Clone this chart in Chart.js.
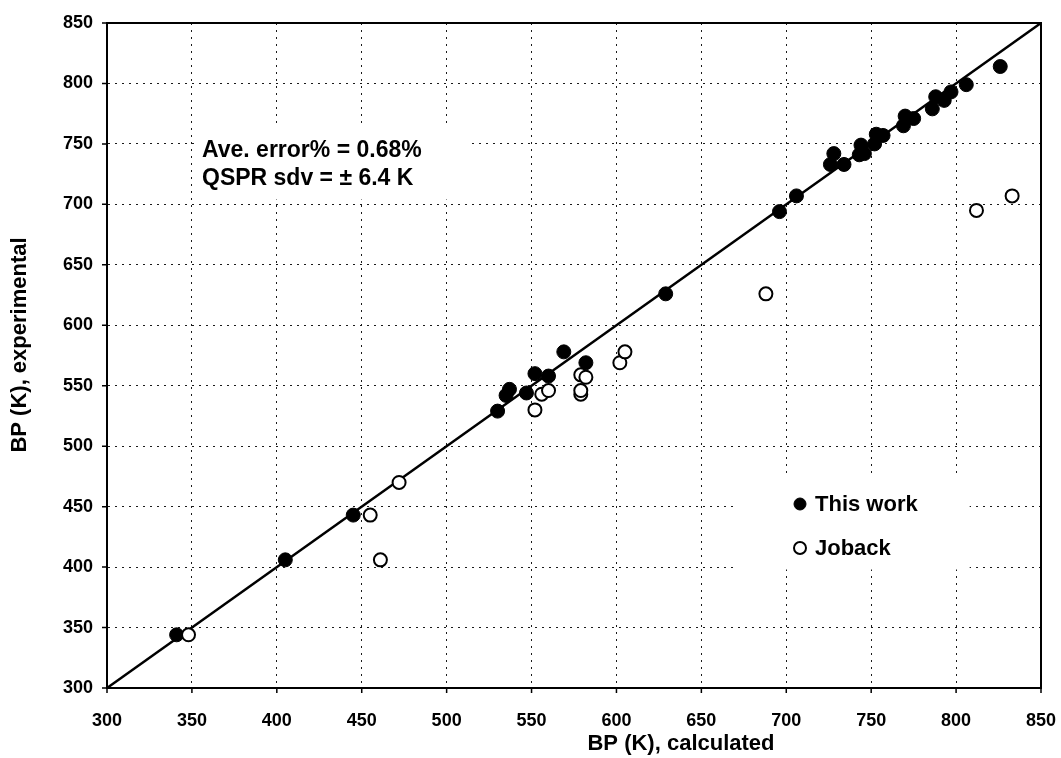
<!DOCTYPE html>
<html>
<head>
<meta charset="utf-8">
<title>BP calculated vs experimental</title>
<script src="https://cdn.jsdelivr.net/npm/chart.js@4/dist/chart.umd.min.js"></script>
<style>
    html, body { margin: 0; padding: 0; background: #ffffff; }
    #chart { display: block; }
</style>
</head>
<body>
<canvas id="chart" width="1061" height="758"></canvas>
<script>
// ============================================================================
// BOILING POINT PARITY PLOT - calculated vs experimental (K)
// ============================================================================

// --- data -------------------------------------------------------------------
var thisWorkCalc = [341, 405, 445, 530, 535, 537, 547, 552, 560, 569, 582, 629,
                    696, 706, 726, 728, 734, 743, 746, 744, 752, 753, 757, 769,
                    770, 775, 786, 788, 793, 797, 806, 826];
var thisWorkExp  = [344, 406, 443, 529, 542, 547, 544, 560, 558, 578, 569, 626,
                    694, 707, 733, 742, 733, 741, 742, 749, 750, 758, 757, 765,
                    773, 771, 779, 789, 786, 793, 799, 814];

var jobackCalc = [348, 455, 461, 472, 552, 556, 560, 579, 579, 579, 582, 602,
                  605, 688, 812, 833];
var jobackExp  = [344, 443, 406, 470, 530, 543, 546, 543, 546, 559, 557, 569,
                  578, 626, 695, 707];

var parityLine = [300, 850];
var axisTicks = [300, 350, 400, 450, 500, 550, 600, 650, 700, 750, 800, 850];

var seriesLabels = ['This work', 'Joback'];
var xTitle = 'BP (K), calculated';
var yTitle = 'BP (K), experimental';
var noteLines = ['Ave. error% = 0.68%', 'QSPR sdv = \u00b1 6.4 K'];

// --- helpers ----------------------------------------------------------------
var FONT = '"Liberation Sans", Arial, Helvetica, sans-serif';

function toPoints(xs, ys) {
    return xs.map(function(x, i) { return { x: x, y: ys[i] }; });
}

// Paper-style decorations: white boxes behind the notes, frame, tick marks,
// axis titles, note text and legend.
var paperPlugin = {
    id: 'paper',
    beforeDatasetsDraw: function(chart) {
        var ctx = chart.ctx;
        var xs = chart.scales.x, ys = chart.scales.y;
        ctx.save();
        ctx.fillStyle = '#ffffff';
        // note box
        var nx1 = xs.getPixelForValue(352), nx2 = xs.getPixelForValue(512);
        var ny1 = ys.getPixelForValue(764), ny2 = ys.getPixelForValue(704);
        ctx.fillRect(nx1, ny1, nx2 - nx1, ny2 - ny1);
        // legend box
        var lx1 = xs.getPixelForValue(671), lx2 = xs.getPixelForValue(808);
        var ly1 = ys.getPixelForValue(474), ly2 = ys.getPixelForValue(398);
        ctx.fillRect(lx1, ly1, lx2 - lx1, ly2 - ly1);
        ctx.restore();
    },
    afterDraw: function(chart) {
        var ctx = chart.ctx;
        var area = chart.chartArea;
        var xs = chart.scales.x, ys = chart.scales.y;
        ctx.save();

        // frame
        ctx.strokeStyle = '#000000';
        ctx.lineWidth = 2;
        ctx.strokeRect(area.left, area.top, area.right - area.left, area.bottom - area.top);

        // tick marks (outside)
        ctx.lineWidth = 1.5;
        ctx.beginPath();
        axisTicks.forEach(function(v) {
            var py = ys.getPixelForValue(v);
            ctx.moveTo(area.left - 5, py);
            ctx.lineTo(area.left, py);
            var px = xs.getPixelForValue(v);
            ctx.moveTo(px, area.bottom);
            ctx.lineTo(px, area.bottom + 5);
        });
        ctx.stroke();

        // axis titles
        ctx.fillStyle = '#000000';
        ctx.font = 'bold 22px ' + FONT;
        ctx.textAlign = 'center';
        ctx.textBaseline = 'middle';
        ctx.fillText(xTitle, 681, 744);
        ctx.save();
        ctx.translate(20, 345);
        ctx.rotate(-Math.PI / 2);
        ctx.fillText(yTitle, 0, 0);
        ctx.restore();

        // note text
        ctx.textAlign = 'left';
        ctx.font = 'bold 23px ' + FONT;
        ctx.fillText(noteLines[0], 202, 151);
        ctx.fillText(noteLines[1], 202, 179);

        // legend
        ctx.font = 'bold 22px ' + FONT;
        var legendY = [504, 548];
        chart.data.datasets.slice(0, 2).forEach(function(ds, i) {
            ctx.beginPath();
            ctx.arc(800, legendY[i], 6, 0, Math.PI * 2);
            ctx.fillStyle = ds.pointBackgroundColor;
            ctx.fill();
            ctx.lineWidth = ds.pointBorderWidth;
            ctx.strokeStyle = '#000000';
            ctx.stroke();
            ctx.fillStyle = '#000000';
            ctx.fillText(ds.label, 815, legendY[i] + 1);
        });

        ctx.restore();
    }
};

function axisOptions(isX) {
    return {
        type: 'linear',
        min: 300,
        max: 850,
        afterBuildTicks: function(scale) {
            scale.ticks = axisTicks.map(function(v) { return { value: v }; });
        },
        afterFit: function(scale) {
            // fixed plot box, no extra room reserved for end labels
            if (isX) {
                scale.height = 70;
                scale.paddingLeft = 0;
                scale.paddingRight = 0;
            } else {
                scale.width = 107;
                scale.paddingTop = 0;
                scale.paddingBottom = 0;
            }
        },
        grid: {
            color: '#1a1a1a',
            lineWidth: 1,
            drawTicks: false
        },
        border: {
            display: true,
            color: '#000000',
            width: 2,
            dash: [2, 5]
        },
        ticks: {
            color: '#000000',
            padding: isX ? 22 : 14,
            font: { family: FONT, size: 18, weight: 'bold' }
        },
        title: { display: false }
    };
}

// --- chart ------------------------------------------------------------------
function initializeChart() {
    var ctx = document.getElementById('chart');
    return new Chart(ctx, {
        type: 'scatter',
        data: {
            datasets: [
                {
                    label: seriesLabels[0],
                    data: toPoints(thisWorkCalc, thisWorkExp),
                    pointRadius: 7,
                    pointBackgroundColor: '#000000',
                    pointBorderColor: '#000000',
                    pointBorderWidth: 1,
                    order: 2
                },
                {
                    label: seriesLabels[1],
                    data: toPoints(jobackCalc, jobackExp),
                    pointRadius: 6.5,
                    pointBackgroundColor: '#ffffff',
                    pointBorderColor: '#000000',
                    pointBorderWidth: 2,
                    order: 1
                },
                {
                    label: 'parity',
                    data: toPoints(parityLine, parityLine),
                    showLine: true,
                    borderColor: '#000000',
                    borderWidth: 2.5,
                    pointRadius: 0,
                    order: 3
                }
            ]
        },
        options: {
            responsive: false,
            animation: false,
            layout: { padding: { top: 23, right: 20, left: 0, bottom: 0 } },
            plugins: {
                legend: { display: false },
                tooltip: { enabled: false }
            },
            scales: {
                x: axisOptions(true),
                y: axisOptions(false)
            }
        },
        plugins: [paperPlugin]
    });
}

initializeChart();
</script>
</body>
</html>
